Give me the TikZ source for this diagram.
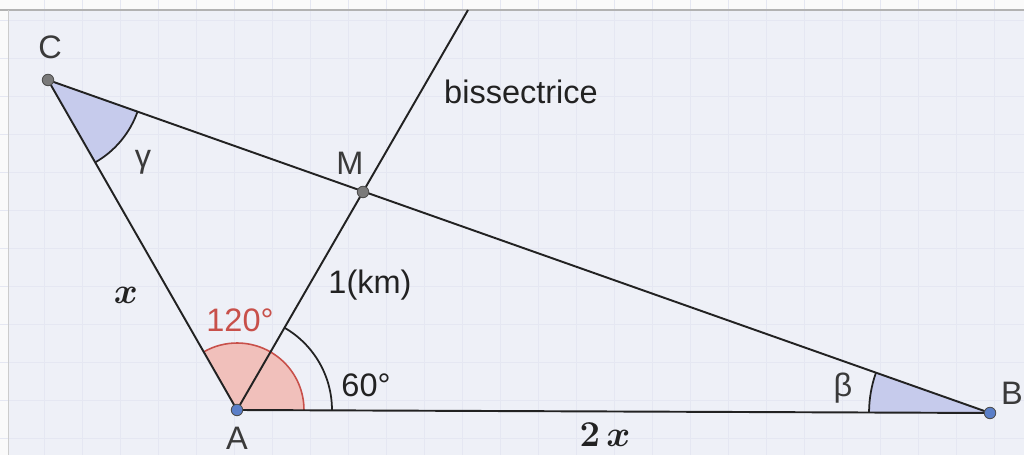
\documentclass[tikz,border=0pt]{standalone}
\usepackage{fontspec}
\usepackage{amsmath,bm}
\setmainfont{Liberation Sans}
\definecolor{bgc}{HTML}{EEF0F7}
\definecolor{gridc}{HTML}{E5E7F2}
\definecolor{bluefill}{HTML}{C6CBEC}
\definecolor{redfill}{HTML}{F1C0BB}
\definecolor{redline}{HTML}{C8504A}
\definecolor{inkc}{HTML}{222222}
\definecolor{labc}{HTML}{3A3A3A}
\definecolor{dotblue}{HTML}{5B7FC8}
\definecolor{dotgray}{HTML}{7A7A7A}
\tikzset{
  seg/.style={draw=inkc, line width=1.1pt},
  arcline/.style={draw=inkc, line width=1pt},
  ptblue/.style={circle, draw=inkc!80, line width=0.5pt, fill=dotblue, minimum size=0.23cm, inner sep=0pt},
  ptgray/.style={circle, draw=inkc!80, line width=0.5pt, fill=dotgray, minimum size=0.23cm, inner sep=0pt},
  lab/.style={text=labc, font=\fontsize{18.5}{22}\selectfont, inner sep=0pt},
  hand/.style={text=inkc, font=\fontsize{22}{26}\selectfont, inner sep=0pt}
}
\begin{document}
\begin{tikzpicture}[x=0.02cm, y=0.02cm]
\useasboundingbox (0,0) rectangle (1024,455);
% background paper
\fill[white!96!gray] (0,0) rectangle (1024,455);
\fill[bgc] (8,0) rectangle (1024,445);
\foreach \x in {44,82,120,158,196,234,272,310,348,386,424,462,500,538,576,614,652,690,728,766,804,842,880,918,956,994}
  \draw[gridc, line width=0.4pt] (\x,0) -- (\x,455);
\foreach \y in {17,55,93,131,169,207,245,283,321,359,397,435}
  \draw[gridc, line width=0.4pt] (0,\y) -- (1024,\y);
\draw[gray!60, line width=0.6pt] (0,445) -- (1024,445);
\draw[gray!40, line width=0.5pt] (8,0) -- (8,445);
% points
\coordinate (A) at (237,45);
\coordinate (B) at (990,42);
\coordinate (C) at (48,375);
\coordinate (M) at (363,263);
\coordinate (T) at (468,445);
% angle fills
\fill[redfill] (A) -- ++(-0.23:1.34cm) arc[start angle=-0.23, end angle=119.8, radius=1.34cm] -- cycle;
\fill[bluefill] (C) -- ++(-60.2:1.9cm) arc[start angle=-60.2, end angle=-19.47, radius=1.9cm] -- cycle;
\fill[bluefill] (B) -- ++(160.53:2.42cm) arc[start angle=160.53, end angle=179.77, radius=2.42cm] -- cycle;
% arc edges
\draw[redline, line width=0.9pt] (A) ++(-0.23:1.34cm) arc[start angle=-0.23, end angle=119.8, radius=1.34cm];
\draw[arcline] (C) ++(-60.2:1.9cm) arc[start angle=-60.2, end angle=-19.47, radius=1.9cm];
\draw[arcline] (B) ++(160.53:2.42cm) arc[start angle=160.53, end angle=179.77, radius=2.42cm];
\draw[arcline] (A) ++(-0.23:1.9cm) arc[start angle=-0.23, end angle=60, radius=1.9cm];
% segments
\draw[seg] (A) -- (B);
\draw[seg] (B) -- (C);
\draw[seg] (C) -- (A);
\draw[seg] (A) -- (T);
% dots
\node[ptblue] (pA) at (A) {};
\node[ptblue] (pB) at (B) {};
\node[ptgray] (pC) at (C) {};
\node[ptgray] (pM) at (M) {};
% labels
\node[lab] (lC) at (50,408) {C};
\node[lab] (lM) at (350,292) {M};
\node[lab] (lA) at (237,17) {A};
\node[lab] (lB) at (1012,62) {B};
\node[lab, text=inkc] (lbis) at (521,363) {bissectrice};
\node[lab] (lg) at (143,293) {γ};
\node[lab] (lbeta) at (843,67) {β};
\node[lab, text=inkc] (lkm) at (370,170) {1(km)};
\node[lab, text=redline] (l120) at (240,135) {120°};
\node[lab, text=inkc] (l60) at (366,70) {60°};
\node[hand] (lx) at (126,160) {$\bm{x}$};
\node[hand] (l2x) at (605,20) {$\bm{2\,x}$};
\end{tikzpicture}
\end{document}
